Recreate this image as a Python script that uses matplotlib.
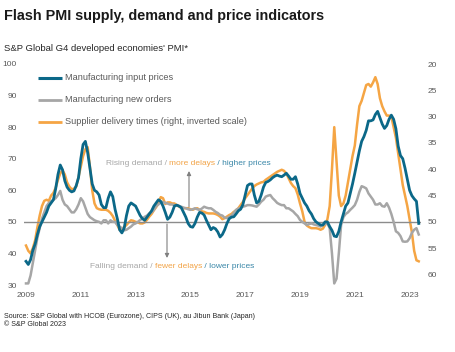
import numpy as np
import matplotlib
matplotlib.use('Agg')
import matplotlib.pyplot as plt
from matplotlib.lines import Line2D

# ---------------- data (monthly, Jan 2009 onward) ----------------
start_year = 2009
input_prices = [
    37.5, 36.5, 38, 41, 43, 46, 48.5, 50, 51.5, 53, 55, 56,
    57, 60.5, 65, 68, 66.5, 63, 61, 60, 59.5, 59.8, 61.5, 64,
    70, 74.5, 75.5, 72, 67, 62, 60, 59.5, 58.5, 55.5, 54.5, 54.5,
    57.5, 59.5, 58, 54, 51, 47.5, 46.5, 48, 52, 55, 56, 55.5,
    55, 53.5, 52, 51, 50.5, 51.5, 52.5, 53.5, 55, 56, 57, 56.5,
    55, 53, 50.8, 51.5, 53, 55, 55.3, 55, 54.5, 53, 51.5, 49.5,
    48.5, 48.3, 49.5, 51.5, 53, 52.8, 52.2, 50.5, 49, 47.5, 48.2, 47.8,
    46.8, 45.2, 46, 47.5, 49.5, 51, 51.5, 51.6, 52.5, 53.5, 54, 55.5,
    58.5, 61.5, 62, 62, 58.5, 56, 56.5, 58.5, 61, 62.5, 62.8, 63.3,
    64, 64.5, 64.8, 64.5, 64.3, 64.8, 65.4, 64.5, 63.5, 63.5, 64.3, 62,
    59, 57.5, 56, 55, 53.5, 52.5, 51, 50, 49.5, 49, 49, 50,
    50, 48.5, 47.3, 45.5, 45.3, 47, 50, 52.5, 55, 56, 59, 62,
    65.4, 69, 72.5, 75.5, 77, 79, 82, 82, 82.3, 84, 85, 83,
    81, 79.6, 80.5, 82.5, 83.8, 82.5, 79.5, 74, 71, 70, 67, 63.5,
    60, 58.3, 57.3, 56.5, 49.5,
]
new_orders = [
    30.5, 30.5, 33, 37, 41, 45, 48, 51, 53, 55, 56, 56.5,
    57, 57.5, 58.5, 59.8, 57, 55.5, 55, 54, 53, 53, 54, 55.5,
    57.5, 56.5, 54.5, 52.5, 51.5, 51, 50.5, 50.2, 50, 49.5, 50.5, 50.5,
    49.5, 50.5, 50, 50, 49, 48.5, 48, 47.3, 47.5, 48, 48.5, 49.2,
    49.5, 50, 50.6, 51, 51.6, 52, 52.7, 53, 53.8, 55, 55.5, 56.2,
    56.3, 56, 55.8, 55.5, 55.5, 55.3, 55.3, 55, 54.8, 54.5, 54.3, 54,
    53.8, 54, 54.3, 54, 53.8, 54.2, 54.8, 54.5, 54.3, 54.3, 53.8, 53.2,
    52.8, 52.2, 52, 51.3, 51.2, 51.6, 52, 52.8, 53.8, 54.2, 54.5, 54.8,
    55, 55.3, 55.3, 55.2, 55, 54.8, 55.5, 56.4, 57, 58, 58.3, 58.5,
    57.5, 56.8, 56, 55.6, 55.3, 55.3, 54.3, 54.3, 53.8, 53.3, 52.5, 51.8,
    50.6, 50, 49.5, 49, 49.3, 49.5, 49.2, 49, 48.8, 48.5, 49, 49.3,
    49.5, 48, 40, 30.5, 32, 40, 49, 51.5, 52.5, 53, 53.8, 54.5,
    55.3, 57, 59.5, 61.3, 61, 60.6, 59, 58, 57, 55.5, 55.5, 55.9,
    55, 54.8, 55.9, 54.5, 52.5, 50, 47, 46.5, 45.5, 43.8, 43.7, 43.8,
    44.8, 46.5, 47.5, 48, 46,
]
delivery_times = [
    54.5, 55.5, 56, 55, 53.5, 51, 48.8, 47, 46, 45.8, 46, 45,
    44.5, 43.5, 42, 40.8, 40.2, 41, 42.5, 43.3, 43.8, 43.7, 43.3, 41.5,
    39.5, 37.5, 36.2, 35.8, 39.5, 44, 46.5, 47.4, 47.6, 47.7, 47.7, 47.7,
    47.9, 48.3, 48.9, 49.8, 50.6, 51.5, 51.3, 51, 50.6, 50.1, 49.7, 49.8,
    50, 50.1, 50.3, 50.3, 50.1, 49.6, 49, 48.5, 47.8, 47.2, 46.5, 45.3,
    45.5, 46.6, 46.3, 46.3, 46.5, 46.5, 46.8, 47.1, 47.3, 47.4, 47.4, 47.4,
    47.6, 47.7, 47.5, 47.4, 47.7, 48, 48.1, 48.3, 48.4, 48.4, 48.4, 48.5,
    48.7, 49, 49.5, 49.3, 49, 48.7, 48.5, 48.1, 47.8, 47.4, 46.8, 46.2,
    45.5, 44.9, 44.3, 43.7, 43.2, 42.9, 42.7, 42.5, 42.4, 42, 41.7, 41.4,
    41.1, 40.8, 40.5, 40.3, 40.1, 40.3, 40.8, 41.7, 42.6, 43.2, 43.6, 44.8,
    46.5, 48, 50, 50.7, 51, 51.2, 51.2, 51.2, 51.3, 51.5, 51.3, 50.6,
    49.5, 47, 40, 32, 38.5, 45, 47, 46.5, 45, 42.5, 40, 37.5,
    35.5, 31.5, 28, 27, 25.5, 24, 23.8, 24.3, 23.5, 22.5, 23.8, 26.5,
    28, 29, 29.8, 29.8, 30, 32, 34, 37, 40, 43, 45, 47,
    49.5, 52, 55.5, 57.3, 57.5,
]
series_labels = ["Manufacturing input prices", "Manufacturing new orders",
                 "Supplier delivery times (right, inverted scale)"]
year_ticks = [2009, 2011, 2013, 2015, 2017, 2019, 2021, 2023]
left_ticks = [30, 40, 50, 60, 70, 80, 90, 100]
right_ticks = [20, 25, 30, 35, 40, 45, 50, 55, 60]

# ---------------- styling ----------------
FONT = 'Liberation Sans'
plt.rcParams['font.family'] = [FONT, 'DejaVu Sans']
BLUE = '#0b6888'
GRAY = '#a6a6a6'
ORANGE = '#f5a544'
TXT = '#595959'

W, H = 455, 352
fig = plt.figure(figsize=(W / 100, H / 100), dpi=100)


def fx(px):
    return px / W


def fy(py):
    return 1 - py / H


ax = fig.add_axes([fx(24), fy(285), (421 - 24) / W, (285 - 64) / H])
ax2 = ax.twinx()

t = start_year + np.arange(len(input_prices)) / 12.0
ppy = 27.4  # pixels per year
ax.set_xlim(start_year - 2 / ppy, start_year + (421 - 26) / ppy)
ax.set_ylim(30, 100)
ax2.set_ylim(62, 20)

ax.axhline(50, color='#8c8c8c', lw=1.0, zorder=1)
ln_o, = ax2.plot(t, delivery_times, color=ORANGE, lw=1.8, solid_joinstyle='round', zorder=2)
ln_g, = ax.plot(t, new_orders, color=GRAY, lw=1.8, solid_joinstyle='round', zorder=2)
ln_b, = ax.plot(t, input_prices, color=BLUE, lw=2.0, solid_joinstyle='round', zorder=3)

ax.set_zorder(ax2.get_zorder() + 1)
ax.patch.set_visible(False)

for a in (ax, ax2):
    for s in a.spines.values():
        s.set_visible(False)

ax.set_xticks(year_ticks)
ax.set_xticklabels([str(y) for y in year_ticks])
ax.set_yticks(left_ticks)
ax2.set_yticks(right_ticks)
ax.tick_params(axis='x', length=0, pad=5, labelsize=6, labelcolor=TXT)
ax.tick_params(axis='y', length=0, pad=5, labelsize=6, labelcolor=TXT)
ax2.tick_params(axis='y', length=0, pad=5, labelsize=6, labelcolor=TXT)

# ---------------- titles ----------------
fig.text(fx(4), fy(20), "Flash PMI supply, demand and price indicators",
         fontsize=10.4, fontweight='bold', color='#1a1a1a', va='baseline', ha='left')
fig.text(fx(4), fy(51), "S&P Global G4 developed economies' PMI*",
         fontsize=6.8, color='#262626', va='baseline', ha='left')

# ---------------- legend ----------------
for (ln, lab, yy) in zip((ln_b, ln_g, ln_o), series_labels, (77.5, 99.5, 121.5)):
    fig.add_artist(Line2D([fx(38), fx(62)], [fy(yy), fy(yy)], color=ln.get_color(),
                          lw=ln.get_linewidth() + 0.2, solid_capstyle='butt'))
    fig.text(fx(65), fy(yy), lab, fontsize=6.6, color=TXT, va='center', ha='left')

# ---------------- annotations ----------------
BTXT = '#3a87a8'
OTXT = '#f2a448'


def chain_text(x_px, y_px, parts, size=6.0):
    first = fig.text(fx(x_px), fy(y_px), parts[0][0], color=parts[0][1],
                     fontsize=size, va='center', ha='left')
    prev = first
    for txt, col in parts[1:]:
        prev = ax.annotate(txt, xy=(1, 0), xycoords=prev, va='bottom', ha='left',
                           color=col, fontsize=size, annotation_clip=False)
    return first


chain_text(106, 164, [("Rising demand / ", GRAY), ("more delays", OTXT), (" / higher prices", BTXT)])
chain_text(90, 266, [("Falling demand / ", GRAY), ("fewer delays", OTXT), (" / lower prices", BTXT)])

ax.annotate('', xy=(189, H - 171), xycoords='figure pixels',
            xytext=(189, H - 207), textcoords='figure pixels',
            arrowprops=dict(arrowstyle='-|>', color='#808080', lw=0.8,
                            mutation_scale=6, shrinkA=0, shrinkB=0))
ax.annotate('', xy=(167, H - 258), xycoords='figure pixels',
            xytext=(167, H - 224), textcoords='figure pixels',
            arrowprops=dict(arrowstyle='-|>', color='#808080', lw=0.8,
                            mutation_scale=6, shrinkA=0, shrinkB=0))

# ---------------- source ----------------
fig.text(fx(4), fy(316), "Source: S&P Global with HCOB (Eurozone), CIPS (UK), au Jibun Bank (Japan)",
         fontsize=5.15, color='#262626', va='center', ha='left')
fig.text(fx(4), fy(324.5), "\u00a9 S&P Global 2023",
         fontsize=5.15, color='#262626', va='center', ha='left')

fig.savefig('out.png', dpi=100)
